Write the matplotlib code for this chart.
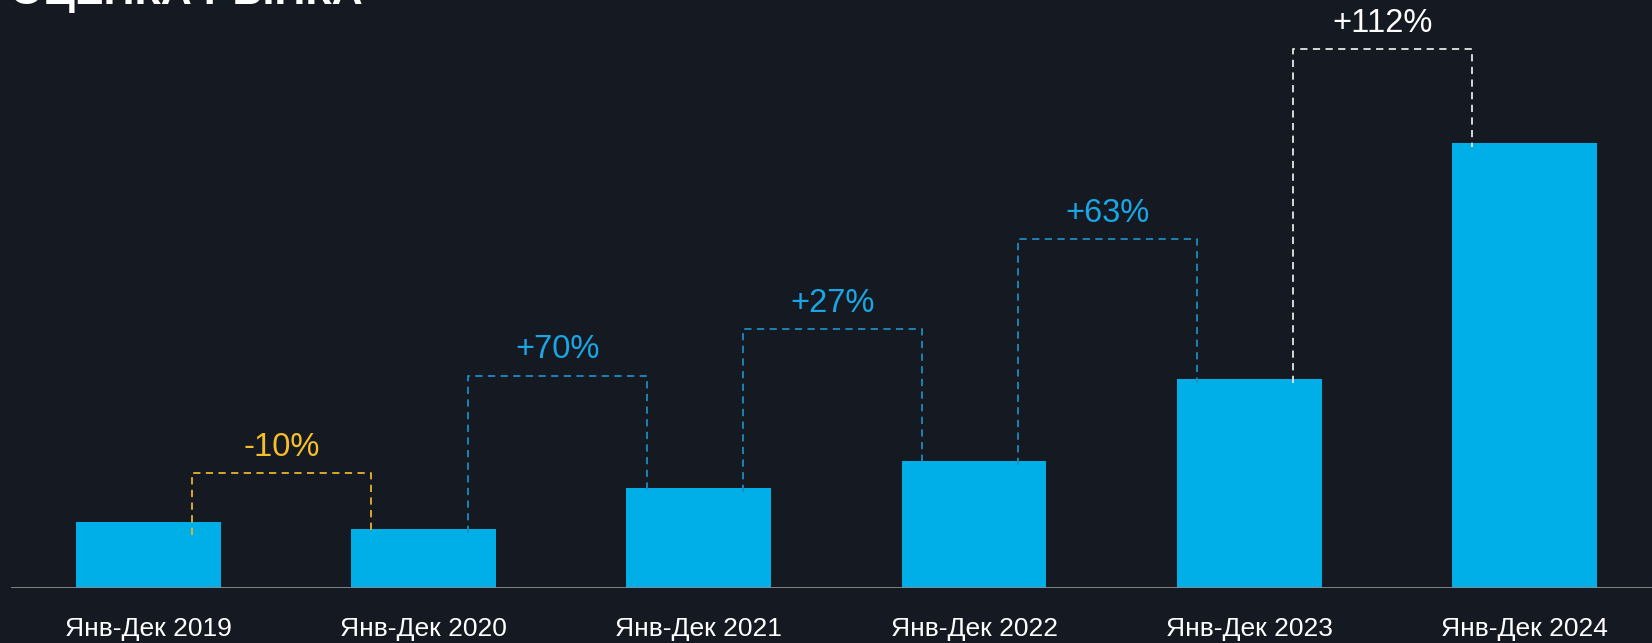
import matplotlib
matplotlib.use('Agg')
import matplotlib.pyplot as plt

# data
periods = ['Янв-Дек 2019', 'Янв-Дек 2020', 'Янв-Дек 2021',
           'Янв-Дек 2022', 'Янв-Дек 2023', 'Янв-Дек 2024']
values = [66, 59, 100, 127, 209, 445]
changes = ['-10%', '+70%', '+27%', '+63%', '+112%']
change_text_colors = ['#F5BE2A', '#1AA6E4', '#1AA6E4', '#1AA6E4', '#FFFFFF']
change_line_colors = ['#E8B42A', '#1C8CC0', '#1C8CC0', '#1C8CC0', '#E6E6E6']
bracket_levels = [115, 212, 259, 349, 539]
title = 'ОЦЕНКА РЫНКА'

bg = '#151922'
bar_color = '#00AEE8'

plt.rcParams['font.family'] = ['Liberation Sans', 'DejaVu Sans']

fig = plt.figure(figsize=(16.52, 6.43), dpi=100, facecolor=bg)
ax = fig.add_axes([11 / 1652, 55 / 643, 1 - 11 / 1652, 588 / 643])
ax.set_facecolor(bg)

x = list(range(len(values)))
ax.bar(x, values, width=0.526, color=bar_color, zorder=2)

ax.set_xlim(-0.499, 5.463)
ax.set_ylim(0, 588)

# growth brackets
for i, (lbl, lvl) in enumerate(zip(changes, bracket_levels)):
    x0 = i + 0.16
    x1 = i + 0.81
    y0 = values[i] - 4
    y1 = values[i + 1] - 4
    if i == 0:
        y0 = y1 = 53
    ax.plot([x0, x0, x1, x1], [y0, lvl, lvl, y1], color=change_line_colors[i],
            lw=1.3, ls=(0, (4, 3)), zorder=3, clip_on=False)
    ax.text((x0 + x1) / 2, lvl + 26, lbl, color=change_text_colors[i],
            fontsize=23.5, ha='center', va='center', zorder=4)

# baseline
ax.axhline(0, color='#8C8C8C', lw=2, zorder=3)

for s in ax.spines.values():
    s.set_visible(False)
ax.set_yticks([])
ax.set_xticks(x)
ax.set_xticklabels(periods, color='white', fontsize=19)
ax.tick_params(axis='x', length=0, pad=21)

fig.text(10 / 1652, 1 - 4 / 643, title, color='white', fontsize=31,
         fontweight='bold', ha='left', va='baseline')

plt.savefig('out.png', dpi=100, facecolor=bg)
plt.close()
